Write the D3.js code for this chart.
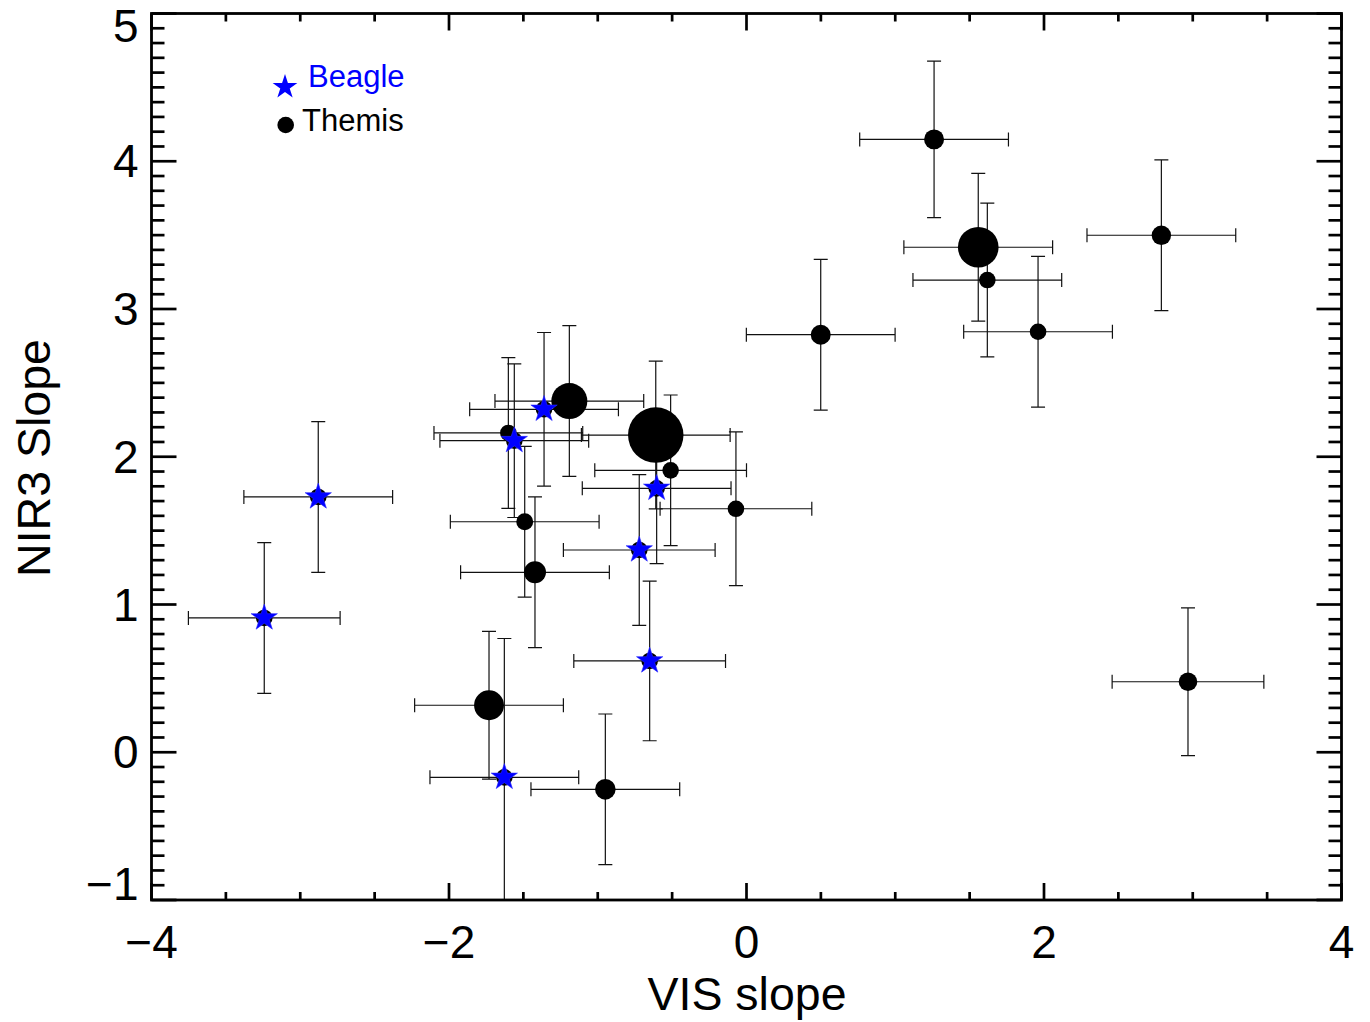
<!DOCTYPE html>
<html>
<head>
<meta charset="utf-8">
<script src="https://cdn.jsdelivr.net/npm/d3@7"></script>
<style>
  body { margin: 0; background: #fff; }
  text { font-family: "Liberation Sans", Arial, Helvetica, sans-serif; }
</style>
</head>
<body>
<div id="my_dataviz"></div>
<script>
// Themis family members (black dots, size = symbol size)
var themisX = [1.261, 1.558, 1.619, 1.960, 2.789, 0.499, 2.968, -0.071, -0.510, -0.610, -1.191, -1.601, -1.491, -1.422, -1.731, -0.949];
var themisY = [4.148, 3.418, 3.196, 2.846, 3.499, 2.826, 0.477, 1.648, 1.908, 2.147, 2.377, 2.161, 1.560, 1.218, 0.318, -0.251];
var themisXErr = [0.50, 0.50, 0.50, 0.50, 0.50, 0.50, 0.51, 0.51, 0.51, 0.50, 0.50, 0.50, 0.50, 0.50, 0.50, 0.50];
var themisYErr = [0.53, 0.50, 0.52, 0.51, 0.51, 0.51, 0.50, 0.52, 0.51, 0.50, 0.51, 0.51, 0.51, 0.51, 0.50, 0.51];
var themisSize = [1.2, 2.45, 1, 1, 1.17, 1.2, 1.12, 1, 1, 3.34, 2.17, 1, 1.02, 1.33, 1.8, 1.24];

// Beagle family members (blue stars)
var beagleX = [-2.879, -3.242, -1.361, -1.561, -0.604, -0.721, -0.651, -1.628];
var beagleY = [1.728, 0.909, 2.321, 2.109, 1.786, 1.369, 0.618, -0.170];
var beagleXErr = [0.50, 0.51, 0.50, 0.50, 0.50, 0.51, 0.51, 0.50];
var beagleYErr = [0.51, 0.51, 0.52, 0.52, 0.51, 0.51, 0.54, 0.94];

// axis ticks
var xMajor = [-4, -2, 0, 2, 4];
var yMajor = [-1, 0, 1, 2, 3, 4, 5];

var margin = { top: 13.5, right: 28.5, bottom: 122, left: 151.5 },
    width = 1370 - margin.left - margin.right,
    height = 1022 - margin.top - margin.bottom;

var svg = d3
  .select("#my_dataviz")
  .append("svg")
  .attr("width", 1370)
  .attr("height", 1022)
  .append("g")
  .attr("transform", "translate(" + margin.left + "," + margin.top + ")");

var x = d3.scaleLinear().domain([-4, 4]).range([0, width]);
var y = d3.scaleLinear().domain([-1, 5]).range([height, 0]);
var r = d3.scaleLinear().domain([0, 1]).range([0, 8.3]);

svg.append("clipPath").attr("id", "clip")
  .append("rect").attr("width", width).attr("height", height);

var themis = themisX.map(function(v, i) {
  return { x: v, y: themisY[i], ex: themisXErr[i], ey: themisYErr[i], s: themisSize[i] };
});
var beagle = beagleX.map(function(v, i) {
  return { x: v, y: beagleY[i], ex: beagleXErr[i], ey: beagleYErr[i], s: 1 };
});
var all = themis.concat(beagle);

var plot = svg.append("g").attr("clip-path", "url(#clip)");

// error bars
var cap = 7;
var bars = plot.selectAll(".err").data(all).enter().append("path")
  .attr("class", "err")
  .attr("fill", "none")
  .attr("stroke", "#111")
  .attr("stroke-width", 1.2)
  .attr("d", function(d) {
    var cx = x(d.x), cy = y(d.y),
        x0 = x(d.x - d.ex), x1 = x(d.x + d.ex),
        y0 = y(d.y - d.ey), y1 = y(d.y + d.ey);
    return "M" + x0 + "," + cy + "H" + x1 +
      "M" + x0 + "," + (cy - cap) + "V" + (cy + cap) +
      "M" + x1 + "," + (cy - cap) + "V" + (cy + cap) +
      "M" + cx + "," + y0 + "V" + y1 +
      "M" + (cx - cap) + "," + y0 + "H" + (cx + cap) +
      "M" + (cx - cap) + "," + y1 + "H" + (cx + cap);
  });

// dots
plot.selectAll(".dot").data(all).enter().append("circle")
  .attr("cx", function(d) { return x(d.x); })
  .attr("cy", function(d) { return y(d.y); })
  .attr("r", function(d) { return r(d.s); })
  .attr("fill", "#000");

// stars on top of the Beagle dots
var star = d3.symbol().type(d3.symbolStar).size(215);
plot.selectAll(".star").data(beagle).enter().append("path")
  .attr("d", star)
  .attr("transform", function(d) { return "translate(" + x(d.x) + "," + y(d.y) + ")"; })
  .attr("fill", "#0000ff")
  .attr("stroke", "#2a2aff")
  .attr("stroke-width", 0.6);

// frame
svg.append("rect")
  .attr("width", width).attr("height", height)
  .attr("fill", "none").attr("stroke", "#000").attr("stroke-width", 2.8);

// ticks, inward on all four sides
var xMinor = d3.range(-4, 4.001, 0.5);
var yMinor = d3.range(-1, 5.001, 0.1);
var ticks = svg.append("g").attr("stroke", "#000").attr("stroke-width", 2.7);

xMinor.forEach(function(v) {
  var len = xMajor.indexOf(Math.round(v * 2) / 2) >= 0 ? 17 : 8;
  ticks.append("line").attr("x1", x(v)).attr("x2", x(v)).attr("y1", height).attr("y2", height - len);
  ticks.append("line").attr("x1", x(v)).attr("x2", x(v)).attr("y1", 0).attr("y2", len);
});
yMinor.forEach(function(v) {
  var vv = Math.round(v * 10) / 10;
  var len = yMajor.indexOf(vv) >= 0 ? 25 : 13;
  ticks.append("line").attr("y1", y(vv)).attr("y2", y(vv)).attr("x1", 0).attr("x2", len);
  ticks.append("line").attr("y1", y(vv)).attr("y2", y(vv)).attr("x1", width).attr("x2", width - len);
});

function fmt(v) { return v < 0 ? "\u2212" + Math.abs(v) : String(v); }

// tick labels
svg.selectAll(".xl").data(xMajor).enter().append("text")
  .attr("x", function(d) { return x(d); })
  .attr("y", 958 - margin.top)
  .attr("text-anchor", "middle")
  .style("font-size", "46px")
  .text(fmt);

svg.selectAll(".yl").data(yMajor).enter().append("text")
  .attr("x", -13)
  .attr("y", function(d) { return Math.min(Math.max(y(d) + 16, 28), height); })
  .attr("text-anchor", "end")
  .style("font-size", "46px")
  .text(fmt);

// axis titles
svg.append("text")
  .attr("x", 747 - margin.left)
  .attr("y", 1010 - margin.top)
  .attr("text-anchor", "middle")
  .style("font-size", "46.5px")
  .text("VIS slope");

svg.append("text")
  .attr("transform", "translate(" + (50 - margin.left) + "," + (458 - margin.top) + ") rotate(-90)")
  .attr("text-anchor", "middle")
  .style("font-size", "46.5px")
  .text("NIR3 Slope");

// legend
var legend = svg.append("g").attr("transform", "translate(" + (-margin.left) + "," + (-margin.top) + ")");
legend.append("path")
  .attr("d", d3.symbol().type(d3.symbolStar).size(190))
  .attr("transform", "translate(285,87)")
  .attr("fill", "#0000ff");
legend.append("text")
  .attr("x", 308).attr("y", 87)
  .attr("fill", "#0000ff")
  .style("font-size", "31px")
  .text("Beagle");
legend.append("circle")
  .attr("cx", 285.7).attr("cy", 125).attr("r", 8.3)
  .attr("fill", "#000");
legend.append("text")
  .attr("x", 302).attr("y", 131)
  .style("font-size", "31px")
  .text("Themis");
</script>
</body>
</html>
